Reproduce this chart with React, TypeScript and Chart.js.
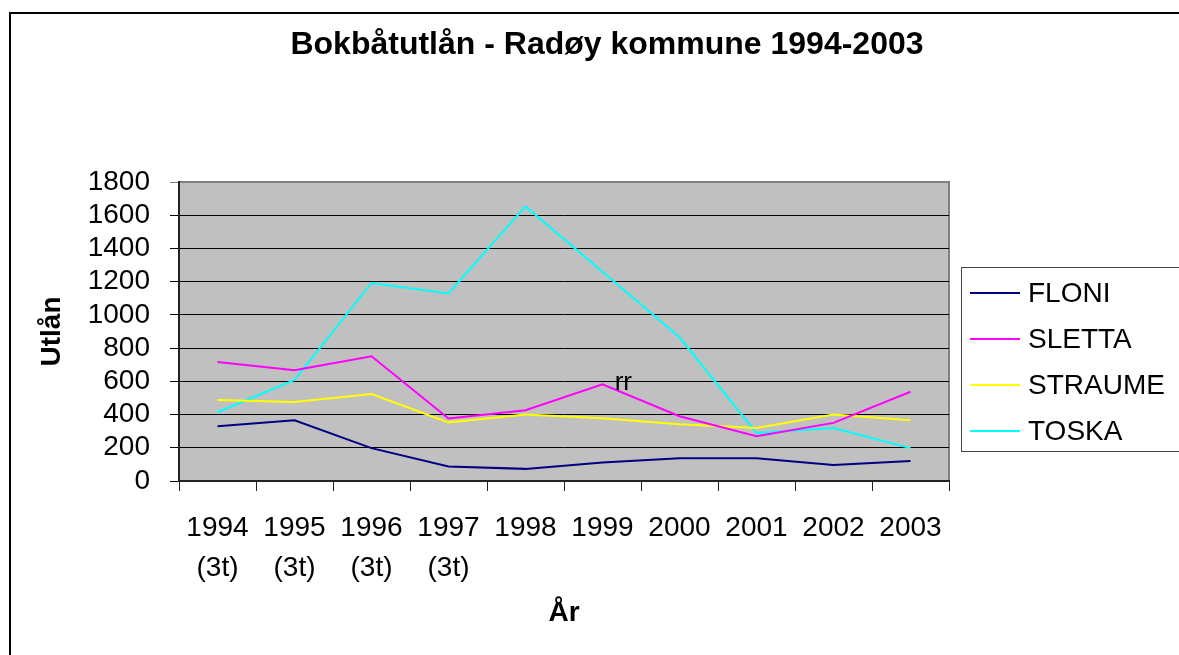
import React, { useEffect, useRef } from 'react';
import { Chart, registerables } from 'chart.js';

Chart.register(...registerables);

const chartTitle = 'Bokbåtutlån - Radøy kommune 1994-2003';
const yTitle = 'Utlån';
const xTitle = 'År';
const categories: string[][] = [
  ['1994', '(3t)'],
  ['1995', '(3t)'],
  ['1996', '(3t)'],
  ['1997', '(3t)'],
  ['1998'],
  ['1999'],
  ['2000'],
  ['2001'],
  ['2002'],
  ['2003'],
];
const seriesNames = ['FLONI', 'SLETTA', 'STRAUME', 'TOSKA'];
const seriesColors = ['#000080', '#FF00FF', '#FFFF00', '#00FFFF'];
const floni = [329, 365, 198, 87, 73, 111, 137, 137, 97, 121];
const sletta = [717, 667, 751, 376, 426, 582, 390, 269, 350, 537];
const straume = [487, 475, 523, 353, 400, 378, 341, 319, 400, 365];
const toska = [414, 608, 1192, 1129, 1653, 1260, 865, 289, 319, 198];
const yMin = 0;
const yMax = 1800;
const yStep = 200;
const noteText = 'rr';
const noteIndex = 5.27;
const noteValue = 590;

const FONT = '"Liberation Sans", Arial, sans-serif';

const decorPlugin = {
  id: 'decor',
  beforeDraw(chart: any) {
    const { ctx, chartArea } = chart;
    const { left, top, right, bottom } = chartArea;
    ctx.save();
    ctx.fillStyle = '#C0C0C0';
    ctx.fillRect(left, top, right - left, bottom - top);
    ctx.strokeStyle = '#808080';
    ctx.lineWidth = 2;
    ctx.strokeRect(left, top, right - left, bottom - top);
    ctx.restore();
  },
  afterDraw(chart: any) {
    const { ctx } = chart;
    ctx.save();
    // outer border
    ctx.strokeStyle = '#000';
    ctx.lineWidth = 2;
    ctx.strokeRect(10, 13, 1300, 800);
    // title
    ctx.fillStyle = '#000';
    ctx.font = `bold 32px ${FONT}`;
    ctx.textAlign = 'center';
    ctx.textBaseline = 'alphabetic';
    ctx.fillText(chartTitle, 607, 54);
    // annotation text
    const xs = chart.scales.x;
    const ys = chart.scales.y;
    const p0 = xs.getPixelForValue(Math.floor(noteIndex));
    const p1 = xs.getPixelForValue(Math.floor(noteIndex) + 1);
    const nx = p0 + (noteIndex - Math.floor(noteIndex)) * (p1 - p0);
    const ny = ys.getPixelForValue(noteValue);
    ctx.font = `26px ${FONT}`;
    ctx.textBaseline = 'middle';
    ctx.fillText(noteText, nx, ny);
    // legend
    ctx.strokeStyle = '#444';
    ctx.lineWidth = 1;
    ctx.strokeRect(961.5, 267.5, 300, 184);
    ctx.font = `28px ${FONT}`;
    ctx.textAlign = 'left';
    ctx.textBaseline = 'middle';
    chart.data.datasets.forEach((ds: any, i: number) => {
      const y = 293 + i * 46;
      ctx.strokeStyle = ds.borderColor;
      ctx.lineWidth = 2;
      ctx.beginPath();
      ctx.moveTo(970, y);
      ctx.lineTo(1020, y);
      ctx.stroke();
      ctx.fillStyle = '#000';
      ctx.fillText(ds.label, 1028, y + 1);
    });
    ctx.restore();
  },
};

export default function App() {
  const ref = useRef<HTMLCanvasElement | null>(null);
  useEffect(() => {
    if (!ref.current) return;
    const seriesData = [floni, sletta, straume, toska];
    const chart = new Chart(ref.current, {
      type: 'line',
      data: {
        labels: categories,
        datasets: seriesData.map((d, i) => ({
          label: seriesNames[i],
          data: d,
          borderColor: seriesColors[i],
          backgroundColor: seriesColors[i],
          borderWidth: 2,
          pointRadius: 0,
          pointHoverRadius: 0,
          tension: 0,
          fill: false,
        })),
      },
      options: {
        responsive: false,
        animation: false,
        events: [],
        layout: { padding: { top: 182, right: 230, bottom: 0, left: 0 } },
        plugins: {
          legend: { display: false },
          title: { display: false },
          tooltip: { enabled: false },
        },
        scales: {
          x: {
            type: 'category',
            offset: true,
            afterFit: (s: any) => {
              s.height = 174;
            },
            grid: {
              offset: true,
              drawOnChartArea: false,
              drawTicks: true,
              tickLength: 10,
              color: '#222',
              lineWidth: 1,
            },
            border: { display: true, color: '#222', width: 2 },
            ticks: {
              color: '#000',
              font: { family: FONT, size: 28, lineHeight: 1.43 },
              padding: 17,
              maxRotation: 0,
              autoSkip: false,
            },
            title: {
              display: true,
              text: xTitle,
              color: '#000',
              font: { family: FONT, size: 28, weight: 'bold' },
              padding: { top: 0, bottom: 25 },
            },
          },
          y: {
            min: yMin,
            max: yMax,
            afterFit: (s: any) => {
              s.width = 179;
            },
            grid: {
              color: (c: any) => (c.tick && c.tick.value === yMax ? '#808080' : '#000'),
              lineWidth: 1,
              drawTicks: true,
              tickLength: 9,
            },
            border: { display: true, color: '#222', width: 2 },
            ticks: {
              stepSize: yStep,
              autoSkip: false,
              color: '#000',
              font: { family: FONT, size: 28 },
              padding: 20,
              callback: (v: any) => String(v),
            },
            title: {
              display: true,
              text: yTitle,
              color: '#000',
              font: { family: FONT, size: 28, weight: 'bold' },
              padding: { top: 35, bottom: 0 },
            },
          },
        },
      },
      plugins: [decorPlugin],
    } as any);
    return () => chart.destroy();
  }, []);
  return (
    <div style={{ position: 'fixed', left: 0, top: 0, width: 1179, height: 655, background: '#fff' }}>
      <canvas ref={ref} width={1179} height={655} style={{ display: 'block', width: 1179, height: 655 }} />
    </div>
  );
}
